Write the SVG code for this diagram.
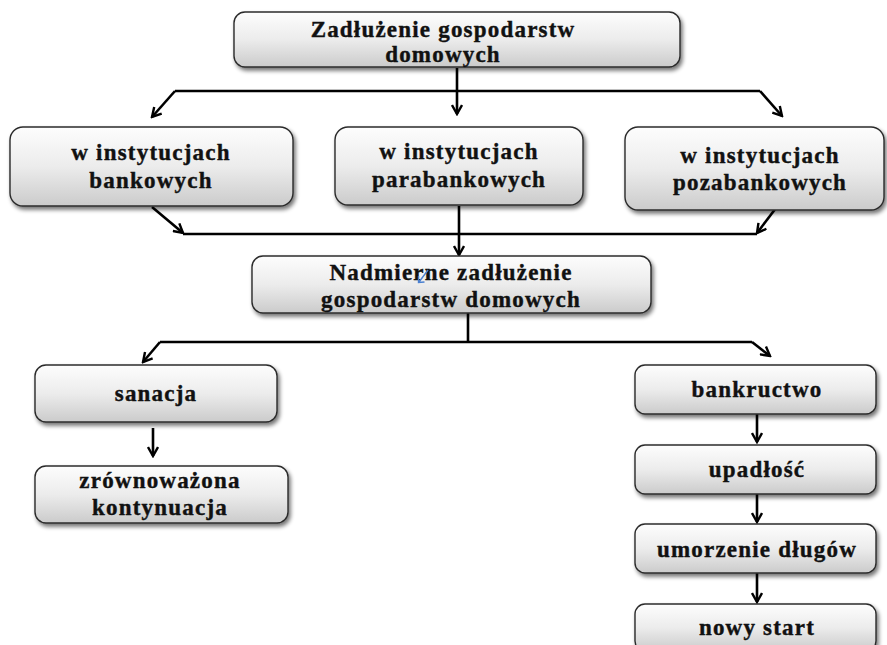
<svg xmlns="http://www.w3.org/2000/svg" width="887" height="645" viewBox="0 0 887 645">
  <defs>
    <linearGradient id="boxFill" x1="0" y1="0" x2="0" y2="1">
      <stop offset="0" stop-color="#fdfdfd"/>
      <stop offset="0.5" stop-color="#ececec"/>
      <stop offset="1" stop-color="#cbcbcb"/>
    </linearGradient>
    <filter id="shadow" x="-10%" y="-20%" width="125%" height="150%">
      <feGaussianBlur in="SourceAlpha" stdDeviation="2"/>
      <feOffset dx="2" dy="3" result="b"/>
      <feComponentTransfer><feFuncA type="linear" slope="0.55"/></feComponentTransfer>
      <feMerge><feMergeNode/><feMergeNode in="SourceGraphic"/></feMerge>
    </filter>
    <marker id="arrow" viewBox="0 0 12 12" refX="10" refY="6" markerWidth="12" markerHeight="12" markerUnits="userSpaceOnUse" orient="auto">
      <path d="M1,1 L10,6 L1,11" fill="none" stroke="#000" stroke-width="2.4"/>
    </marker>
  </defs>
  <style>
    .box { fill: url(#boxFill); stroke: #2b2b2b; stroke-width: 1.4; filter: url(#shadow); }
    .lbl { font-family: "Liberation Serif", "Times New Roman", serif; font-weight: bold; font-size: 23px; letter-spacing: 1.2px; fill: #111; stroke: #111; stroke-width: 0.4; text-anchor: middle; }
    .conn { fill: none; stroke: #000; stroke-width: 2.6; }
    .arr { marker-end: url(#arrow); }
  </style>

  <rect width="887" height="645" fill="#fff"/>

  <!-- connectors -->
  <g id="connectors">
    <!-- top split -->
    <path class="conn arr" d="M457,68 L457,114"/>
    <path class="conn" d="M175,91 L760,91"/>
    <path class="conn arr" d="M175,91 L152,117"/>
    <path class="conn arr" d="M760,91 L782,116"/>
    <!-- merge into excessive debt -->
    <path class="conn" d="M183,234 L757,234"/>
    <path class="conn arr" d="M152,207 L183,233"/>
    <path class="conn arr" d="M776,208 L757,233"/>
    <path class="conn arr" d="M459,206 L459,255"/>
    <!-- second split -->
    <path class="conn" d="M468,313 L468,342 M160,342 L752,342"/>
    <path class="conn arr" d="M160,342 L143,362"/>
    <path class="conn arr" d="M752,342 L770,356"/>
    <!-- left chain -->
    <path class="conn arr" d="M153,428 L153,456"/>
    <!-- right chain -->
    <path class="conn arr" d="M757,414 L757,442"/>
    <path class="conn arr" d="M757,494 L757,522"/>
    <path class="conn arr" d="M757,573 L757,602"/>
  </g>

  <g id="household-debt">
    <rect class="box" x="234" y="12" width="446" height="55" rx="11"/>
    <text class="lbl" x="443" y="37">Zadłużenie gospodarstw</text>
    <text class="lbl" x="443" y="62">domowych</text>
  </g>

  <g id="banks">
    <rect class="box" x="10" y="127" width="283" height="79" rx="13"/>
    <text class="lbl" x="151" y="160">w instytucjach</text>
    <text class="lbl" x="151" y="188">bankowych</text>
  </g>

  <g id="parabanks">
    <rect class="box" x="335" y="127" width="248" height="78" rx="13"/>
    <text class="lbl" x="459" y="159">w instytucjach</text>
    <text class="lbl" x="459" y="187">parabankowych</text>
  </g>

  <g id="nonbanks">
    <rect class="box" x="625" y="127" width="259" height="83" rx="13"/>
    <text class="lbl" x="760" y="163">w instytucjach</text>
    <text class="lbl" x="760" y="190">pozabankowych</text>
  </g>

  <g id="excessive-debt">
    <rect class="box" x="252" y="256" width="399" height="57" rx="11"/>
    <text class="lbl" x="451" y="280">Nadmierne zadłużenie</text>
    <text class="lbl" x="451" y="307">gospodarstw domowych</text>
    <path d="M428,270 L419,282 M418.5,276 L418.5,282.5 L424.5,282" fill="none" stroke="#4a80d0" stroke-width="1.4"/>
  </g>

  <g id="recovery">
    <rect class="box" x="35" y="365" width="242" height="57" rx="11"/>
    <text class="lbl" x="156" y="401">sanacja</text>
  </g>

  <g id="continuation">
    <rect class="box" x="35" y="466" width="253" height="57" rx="11"/>
    <text class="lbl" x="160" y="488">zrównoważona</text>
    <text class="lbl" x="160" y="515">kontynuacja</text>
  </g>

  <g id="bankruptcy">
    <rect class="box" x="635" y="365" width="241" height="49" rx="10"/>
    <text class="lbl" x="757" y="397">bankructwo</text>
  </g>

  <g id="insolvency">
    <rect class="box" x="635" y="445" width="241" height="49" rx="10"/>
    <text class="lbl" x="757" y="477">upadłość</text>
  </g>

  <g id="debt-relief">
    <rect class="box" x="635" y="524" width="241" height="49" rx="10"/>
    <text class="lbl" x="757" y="557">umorzenie długów</text>
  </g>

  <g id="fresh-start">
    <rect class="box" x="635" y="604" width="241" height="47" rx="10"/>
    <text class="lbl" x="757" y="635">nowy start</text>
  </g>
</svg>
